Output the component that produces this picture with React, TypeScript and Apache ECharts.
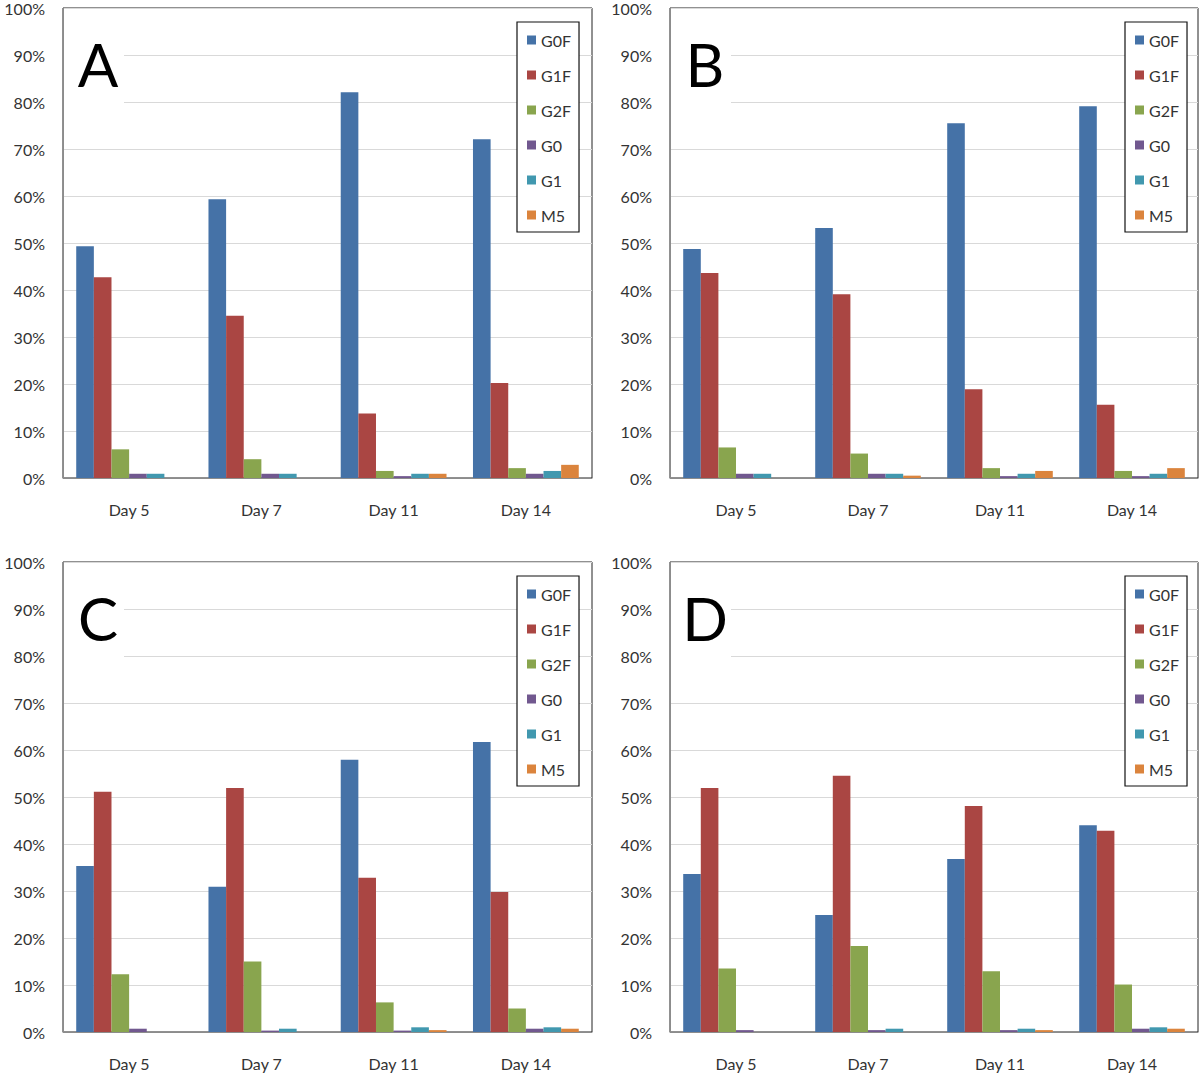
import React, { useEffect, useRef } from "react";
import * as echarts from "echarts";

const categories = ["Day 5", "Day 7", "Day 11", "Day 14"];
const seriesNames = ["G0F", "G1F", "G2F", "G0", "G1", "M5"];
const seriesColors = ["#4572A7", "#AA4643", "#89A54E", "#71588F", "#4198AF", "#DB843D"];
const panelLetters = ["A", "B", "C", "D"];
const yTicks = [0, 10, 20, 30, 40, 50, 60, 70, 80, 90, 100];

// rows: G0F, G1F, G2F, G0, G1, M5 ; columns: Day 5, Day 7, Day 11, Day 14
const panelA = [
  [49.3, 59.3, 82.1, 72.1],
  [42.7, 34.5, 13.7, 20.2],
  [6.1, 4.0, 1.5, 2.1],
  [0.9, 0.9, 0.4, 0.9],
  [0.9, 0.9, 0.9, 1.5],
  [0, 0, 0.9, 2.8],
];
const panelB = [
  [48.7, 53.2, 75.5, 79.1],
  [43.6, 39.1, 18.9, 15.6],
  [6.5, 5.2, 2.1, 1.5],
  [0.9, 0.9, 0.4, 0.4],
  [0.9, 0.9, 0.9, 0.9],
  [0, 0.5, 1.5, 2.1],
];
const panelC = [
  [35.3, 30.9, 57.9, 61.7],
  [51.1, 51.9, 32.8, 29.8],
  [12.3, 15.0, 6.3, 5.0],
  [0.7, 0.3, 0.3, 0.7],
  [0, 0.7, 1.0, 1.0],
  [0, 0, 0.4, 0.7],
];
const panelD = [
  [33.6, 24.9, 36.8, 44.0],
  [51.9, 54.5, 48.1, 42.8],
  [13.5, 18.3, 12.9, 10.1],
  [0.4, 0.4, 0.4, 0.7],
  [0, 0.7, 0.7, 1.0],
  [0, 0, 0.4, 0.7],
];

const panels = [panelA, panelB, panelC, panelD];

const FONT = "Lato, 'Noto Sans', sans-serif";

const gridBoxes = [
  { left: 63, top: 8, width: 529, height: 470 },
  { left: 670, top: 8, width: 528, height: 470 },
  { left: 63, top: 562, width: 529, height: 470 },
  { left: 670, top: 562, width: 528, height: 470 },
];

export default function App() {
  const ref = useRef<HTMLDivElement>(null);
  useEffect(() => {
    if (!ref.current) return;
    const chart = echarts.init(ref.current, null, { renderer: "svg" });

    const grid = gridBoxes.map((g) => ({
      ...g,
      show: true,
      borderColor: "#222",
      borderWidth: 1,
      backgroundColor: "#fff",
      containLabel: false,
    }));

    const xAxis = gridBoxes.map((_, i) => ({
      type: "category",
      gridIndex: i,
      data: categories,
      axisTick: { show: false },
      axisLine: { show: true, lineStyle: { color: "#8c8c8c", width: 1 } },
      axisLabel: { color: "#333", fontSize: 16, margin: 23, fontFamily: FONT },
      splitLine: { show: false },
    }));

    const yAxis = gridBoxes.map((_, i) => ({
      type: "value",
      gridIndex: i,
      min: yTicks[0],
      max: yTicks[yTicks.length - 1],
      interval: 10,
      axisTick: { show: false },
      axisLine: { show: true, lineStyle: { color: "#8c8c8c", width: 1 } },
      axisLabel: {
        color: "#333",
        fontSize: 16,
        margin: 18,
        fontFamily: FONT,
        formatter: "{value}%",
      },
      splitLine: { show: true, lineStyle: { color: "#d9d9d9", width: 1 } },
    }));

    const series: any[] = [];
    panels.forEach((panel, pi) => {
      panel.forEach((vals, si) => {
        series.push({
          type: "bar",
          name: seriesNames[si],
          xAxisIndex: pi,
          yAxisIndex: pi,
          data: vals,
          barGap: "0%",
          barCategoryGap: "20%",
          itemStyle: { color: seriesColors[si] },
          emphasis: { disabled: true },
        });
      });
    });

    const legend = gridBoxes.map((g) => ({
      orient: "vertical",
      left: g.left + (g.left < 100 ? 454 : 455),
      top: g.top + 14,
      padding: [10, 8, 9, 10],
      itemWidth: 9,
      itemHeight: 9,
      itemGap: 19,
      icon: "rect",
      backgroundColor: "#fff",
      borderColor: "#111",
      borderWidth: 1.2,
      selectedMode: false,
      data: seriesNames,
      textStyle: { color: "#333", fontSize: 16, lineHeight: 16, fontFamily: FONT },
    }));

    const graphic: any[] = [];
    gridBoxes.forEach((g, i) => {
      graphic.push({
        type: "rect",
        shape: { x: g.left + 1, y: g.top + 1, width: 60, height: 100 },
        style: { fill: "#fff" },
        z: 5,
        silent: true,
      });
      graphic.push({
        type: "text",
        x: g.left + 35,
        y: g.top + 56,
        style: {
          text: panelLetters[i],
          fontSize: 60,
          fontFamily: FONT,
          fill: "#000",
          textAlign: "center",
          textVerticalAlign: "middle",
        },
        z: 6,
        silent: true,
      });
    });

    chart.setOption({
      animation: false,
      color: seriesColors,
      grid,
      xAxis,
      yAxis,
      series,
      legend,
      graphic,
    });
    return () => chart.dispose();
  }, []);
  return (
    <div
      ref={ref}
      style={{ position: "absolute", left: 0, top: 0, width: 1200, height: 1073, background: "#fff" }}
    />
  );
}
